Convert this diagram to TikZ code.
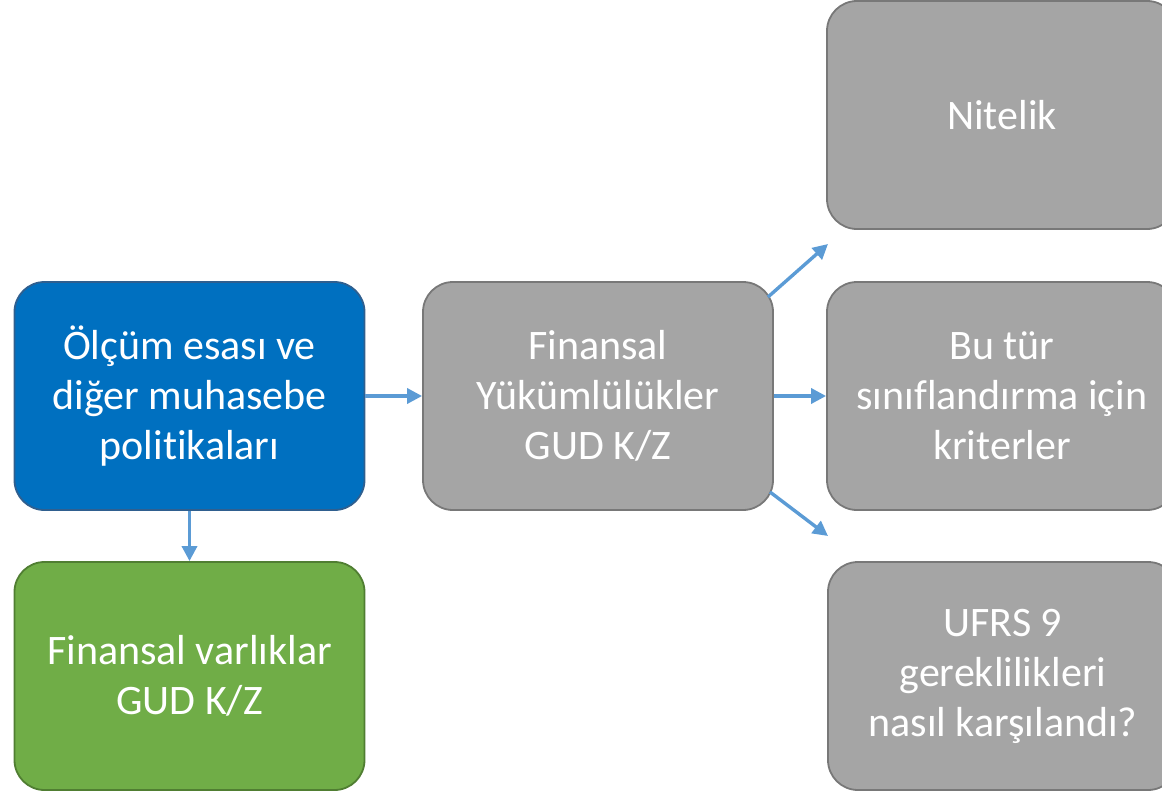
\documentclass[tikz,border=0pt]{standalone}
\usepackage{fontspec}
\setmainfont{Carlito}[RawFeature={-liga;-clig;-calt;-dlig}]
\usetikzlibrary{arrows.meta}
\definecolor{boxblue}{HTML}{0070C0}
\definecolor{blueedge}{HTML}{2F5F8F}
\definecolor{boxgreen}{HTML}{70AD47}
\definecolor{greenedge}{HTML}{507E32}
\definecolor{boxgrey}{HTML}{A5A5A5}
\definecolor{greyedge}{HTML}{787878}
\definecolor{arrowblue}{HTML}{5B9BD5}
\tikzset{
  card/.style={rounded corners=30bp, minimum width=350bp, minimum height=228bp,
    line width=1.8bp, align=center, text=white, inner sep=0pt,
    font=\fontsize{42bp}{50bp}\selectfont},
  bluecard/.style={card, fill=boxblue, draw=blueedge},
  greencard/.style={card, fill=boxgreen, draw=greenedge},
  greycard/.style={card, fill=boxgrey, draw=greyedge},
  link/.style={draw=arrowblue, line width=3.4bp, -{Triangle[length=15bp,width=15bp]}}
}
\begin{document}
\begin{tikzpicture}[x=1bp,y=-1bp]
\useasboundingbox (0,0) rectangle (1162,791);
\clip (0,0) rectangle (1162,791);
\node[bluecard] (meas) at (189.5,396) {Ölçüm esası ve\\diğer muhasebe\\politikaları};
\node[greencard] (assets) at (189.5,676) {Finansal varlıklar\\GUD K/Z};
\node[greycard] (liab) at (598,396) {Finansal\\Yükümlülükler\\GUD K/Z};
\node[greycard] (nature) at (1002,115) {Nitelik};
\node[greycard] (crit) at (1002,396) {Bu tür\\sınıflandırma için\\kriterler};
\node[greycard] (ifrs) at (1003,676) {UFRS 9\\gereklilikleri\\nasıl karşılandı?};
\coordinate (upstart) at (768,297);
\coordinate (upend) at (828,244);
\coordinate (downstart) at (770,492);
\coordinate (downend) at (828,536);
\draw[link] (meas.east) -- (liab.west);
\draw[link] (meas.south) -- (assets.north);
\draw[link] (liab.east) -- (crit.west);
\draw[link] (upstart) -- (upend);
\draw[link] (downstart) -- (downend);
\end{tikzpicture}
\end{document}
